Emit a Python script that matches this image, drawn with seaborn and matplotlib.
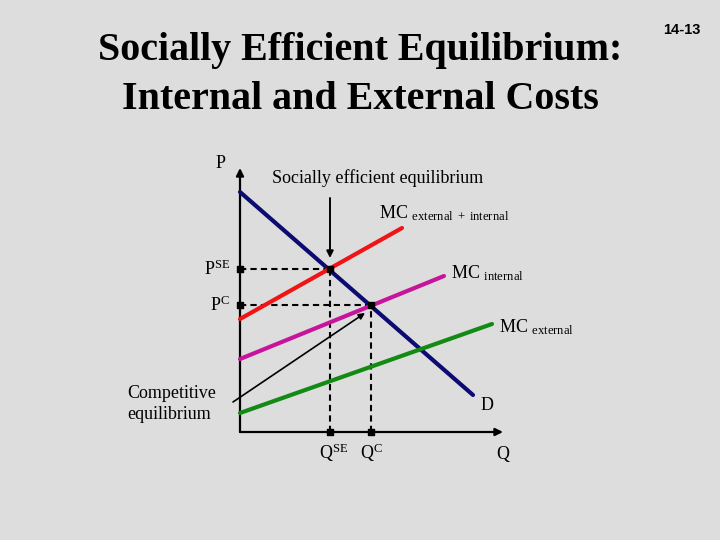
import pandas as pd
import seaborn as sns
import matplotlib.pyplot as plt

# curves (origin at the axes corner)
curve_names = ["D", "MC external + internal", "MC internal", "MC external"]
curve_q = [[0, 233], [0, 162], [0, 204], [0, 252]]
curve_p = [[240, 37], [113, 204], [73, 156], [19, 108]]
curve_colors = ["#0b0b72", "#f01414", "#c8149b", "#138a13"]

# equilibria: socially efficient and competitive
eq_names = ["SE", "C"]
eq_q = [90, 131]
eq_p = [163, 127]

q_max = 263
p_max = 264

# arrow from "Competitive equilibrium" to the competitive point
comp_arrow_q = [-7, 125]
comp_arrow_p = [30, 119]
# arrow from "Socially efficient equilibrium" down to the SE point
se_arrow_p = [234, 174]

title = "Socially Efficient Equilibrium:\nInternal and External Costs"
slide_no = "14-13"

rows = []
for name, qs, ps in zip(curve_names, curve_q, curve_p):
    for q, p in zip(qs, ps):
        rows.append({"curve": name, "Q": q, "P": p})
df = pd.DataFrame(rows)

sns.set_theme(style="white")
plt.rcParams["font.family"] = ["Liberation Serif", "DejaVu Serif"]
plt.rcParams["text.color"] = "black"
plt.rcParams["mathtext.fontset"] = "custom"
plt.rcParams["mathtext.rm"] = "Liberation Serif"
plt.rcParams["mathtext.it"] = "Liberation Serif:italic"

bg = "#dddddd"
fig = plt.figure(figsize=(7.2, 5.4), dpi=100, facecolor=bg)
ax = fig.add_axes([0, 0, 1, 1])
ax.set_facecolor(bg)
ax.axis("off")

# axes with arrow heads
ax.annotate("", xy=(q_max, 0), xytext=(0, 0),
            arrowprops=dict(arrowstyle="-|>", color="black", lw=1.6,
                            mutation_scale=11, shrinkA=0, shrinkB=0))
ax.annotate("", xy=(0, p_max), xytext=(0, 0),
            arrowprops=dict(arrowstyle="-|>", color="black", lw=1.6,
                            mutation_scale=11, shrinkA=0, shrinkB=0))

# dashed guides
for q, p in zip(eq_q, eq_p):
    ax.plot([0, q], [p, p], color="black", lw=1.5, ls=(0, (3, 2)), zorder=2)
    ax.plot([q, q], [0, p], color="black", lw=1.5, ls=(0, (3, 2)), zorder=2)

sns.lineplot(data=df, x="Q", y="P", hue="curve", palette=curve_colors,
             hue_order=curve_names, sort=False, estimator=None,
             linewidth=3, legend=False, ax=ax, zorder=3)
ax.set_xlim(-240, 480)
ax.set_ylim(-108, 432)

# square markers
ax.scatter(eq_q, eq_p, marker="s", s=24, color="black", zorder=5)
ax.scatter([0] * len(eq_p), eq_p, marker="s", s=24, color="black", zorder=5)
ax.scatter(eq_q, [0] * len(eq_q), marker="s", s=24, color="black", zorder=5)

ax.annotate("", xy=(comp_arrow_q[1], comp_arrow_p[1]),
            xytext=(comp_arrow_q[0], comp_arrow_p[0]),
            arrowprops=dict(arrowstyle="-|>", color="black", lw=1.2,
                            mutation_scale=9, shrinkA=0, shrinkB=0))
ax.annotate("", xy=(eq_q[0], se_arrow_p[1]), xytext=(eq_q[0], se_arrow_p[0]),
            arrowprops=dict(arrowstyle="-|>", color="black", lw=1.4,
                            mutation_scale=10, shrinkA=0, shrinkB=0))

fs = 13
ax.text(120, 357, title, ha="center", va="center", fontsize=28.8,
        fontweight="bold", linespacing=1.4)
ax.text(442, 402, slide_no, ha="center", va="center", fontsize=10.5,
        fontweight="bold", family=["Liberation Sans", "DejaVu Sans"])

ax.text(-19, 269, "P", ha="center", va="center", fontsize=fs)
ax.text(263, -23, "Q", ha="center", va="center", fontsize=fs)
ax.text(32, 254, "Socially efficient equilibrium", ha="left", va="center",
        fontsize=fs)
ax.text(-113, 28, "Competitive\nequilibrium", ha="left", va="center",
        fontsize=fs, linespacing=1.3)
ax.text(241, 27, "D", ha="left", va="center", fontsize=fs)

ax.text(139, 219, r"MC $_{\mathrm{external\ +\ internal}}$", ha="left",
        va="center", fontsize=fs)
ax.text(211, 159, r"MC $_{\mathrm{internal}}$", ha="left", va="center",
        fontsize=fs)
ax.text(259, 105, r"MC $_{\mathrm{external}}$", ha="left", va="center",
        fontsize=fs)

for name, q, p in zip(eq_names, eq_q, eq_p):
    ax.text(-10, p, r"P$^{\mathrm{%s}}$" % name, ha="right", va="center",
            fontsize=fs)
    ax.text(q - 11, -21, r"Q$^{\mathrm{%s}}$" % name, ha="left", va="center",
            fontsize=fs)

fig.savefig("out.png", dpi=100, facecolor=bg)
